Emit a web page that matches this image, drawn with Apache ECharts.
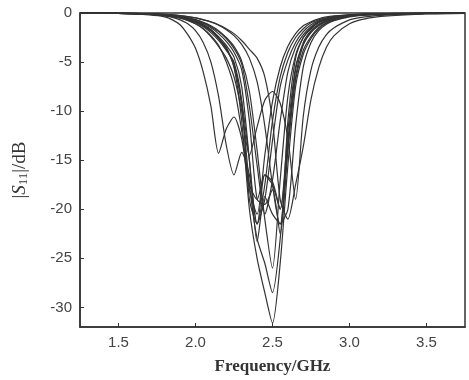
<!DOCTYPE html>
<html><head><meta charset="utf-8">
<script src="https://cdn.jsdelivr.net/npm/echarts@6/dist/echarts.min.js"></script>
<style>html,body{margin:0;padding:0;background:#fff}#c{width:469px;height:380px}</style>
</head><body><div id="c"></div>
<script>
const freq = [1.25,1.5,1.7,1.8,1.85,1.9,1.95,2.0,2.05,2.1,2.15,2.2,2.25,2.3,2.35,2.4,2.45,2.5,2.55,2.6,2.65,2.7,2.75,2.8,2.85,2.9,3.0,3.1,3.25,3.5,3.75];
const c1 = [0,-0.05,-0.2,-0.4,-0.7,-1.2,-2.2,-3.6,-6.0,-9.5,-14.3,-11.8,-10.6,-12.8,-18.0,-20.5,-14.5,-9.0,-5.5,-3.4,-2.1,-1.3,-0.9,-0.6,-0.4,-0.3,-0.2,-0.1,-0.05,0,0];
const c2 = [0,-0.03,-0.15,-0.3,-0.45,-0.7,-1.1,-1.8,-3.0,-5.0,-8.5,-13.5,-16.5,-14.2,-16.5,-21.5,-17.5,-11.0,-6.5,-4.0,-2.5,-1.6,-1.0,-0.7,-0.5,-0.35,-0.2,-0.12,-0.06,-0.02,0];
const c3 = [0,-0.02,-0.1,-0.2,-0.3,-0.42,-0.6,-0.85,-1.2,-1.7,-2.5,-3.6,-5.5,-11,-20,-25,-28.5,-31.6,-25.5,-15.5,-7.5,-4.2,-2.6,-1.6,-1.05,-0.7,-0.35,-0.2,-0.1,-0.03,0];
const c4 = [0,-0.02,-0.1,-0.2,-0.3,-0.45,-0.65,-0.9,-1.3,-1.8,-2.6,-3.7,-5.2,-9.5,-17.5,-23,-25.5,-28.5,-23,-13.5,-6.8,-3.8,-2.4,-1.5,-1.0,-0.65,-0.33,-0.18,-0.09,-0.03,0];
const c5 = [0,-0.03,-0.12,-0.25,-0.35,-0.5,-0.75,-1.1,-1.6,-2.4,-3.4,-4.6,-6.5,-10,-14.5,-11.6,-8.9,-8.0,-9.2,-12.8,-19.0,-10.5,-5.8,-3.5,-2.2,-1.5,-0.7,-0.4,-0.2,-0.06,-0.02];
const c6 = [0,-0.02,-0.08,-0.15,-0.2,-0.27,-0.37,-0.5,-0.7,-0.9,-1.2,-1.6,-2.1,-2.8,-3.7,-4.6,-6.5,-11,-19,-21,-17.5,-13.6,-8.8,-5.6,-3.5,-2.3,-1.1,-0.6,-0.3,-0.1,-0.03];
const c7 = [0,-0.02,-0.1,-0.2,-0.3,-0.42,-0.6,-0.85,-1.2,-1.7,-2.4,-3.3,-4.5,-7.5,-15,-23.3,-18.7,-20.5,-21.5,-11,-4.6,-2.5,-1.5,-0.95,-0.65,-0.45,-0.25,-0.15,-0.08,-0.03,0];
const c8 = [0,-0.03,-0.12,-0.24,-0.34,-0.48,-0.7,-1.0,-1.4,-2.0,-2.8,-3.8,-5.0,-9,-19,-21.5,-16.5,-17.5,-20,-13,-5.8,-3.0,-1.8,-1.15,-0.78,-0.53,-0.28,-0.16,-0.08,-0.03,0];
const c9 = [0,-0.02,-0.09,-0.18,-0.27,-0.38,-0.54,-0.76,-1.07,-1.5,-2.1,-2.9,-4.0,-5.8,-11,-19,-19.5,-18,-22.5,-14,-6.5,-3.2,-1.9,-1.2,-0.8,-0.55,-0.3,-0.17,-0.09,-0.03,0];
const c10 = [0,-0.02,-0.09,-0.18,-0.26,-0.36,-0.5,-0.7,-1.0,-1.4,-1.9,-2.6,-3.6,-5.2,-9.5,-15.5,-20.5,-17,-11,-6,-3.5,-2.2,-1.4,-0.9,-0.62,-0.44,-0.24,-0.14,-0.07,-0.02,0];
const c11 = [0,-0.02,-0.1,-0.21,-0.3,-0.43,-0.62,-0.9,-1.3,-1.85,-2.6,-3.5,-5.5,-9,-15,-21.5,-19,-13,-7.5,-4.8,-3.0,-1.9,-1.2,-0.8,-0.55,-0.4,-0.22,-0.12,-0.06,-0.02,0];
const c12 = [0,-0.03,-0.13,-0.26,-0.37,-0.52,-0.76,-1.1,-1.6,-2.3,-3.3,-5.0,-7.5,-12,-17.5,-19,-16.5,-17.2,-20,-12,-5.5,-3.2,-2.0,-1.3,-0.88,-0.6,-0.32,-0.18,-0.09,-0.03,0];
const c13 = [0,-0.02,-0.08,-0.17,-0.25,-0.35,-0.49,-0.68,-0.95,-1.3,-1.8,-2.5,-3.4,-4.9,-8,-14,-21,-26,-17,-8.5,-4.3,-2.5,-1.6,-1.0,-0.7,-0.48,-0.26,-0.15,-0.07,-0.02,0];
const c14 = [0,-0.02,-0.07,-0.14,-0.2,-0.27,-0.37,-0.5,-0.68,-0.92,-1.25,-1.7,-2.3,-3.2,-4.6,-7,-11.5,-17.5,-21.5,-20,-11.5,-5.5,-3.0,-1.8,-1.15,-0.78,-0.4,-0.22,-0.11,-0.04,-0.01];
const curves = [c1,c2,c3,c4,c5,c6,c7,c8,c9,c10,c11,c12,c13,c14];
const xTicks = [1.5,2.0,2.5,3.0,3.5];
const yTicks = [0,-5,-10,-15,-20,-25,-30];

const chart = echarts.init(document.getElementById('c'), null, {renderer:'canvas'});
chart.setOption({
  animation:false,
  grid:{left:80,right:4,top:13,bottom:51,show:true,borderColor:'#333',borderWidth:1.5,backgroundColor:'#fff'},
  xAxis:{
    type:'value',min:1.25,max:3.75,
    axisLine:{show:true,onZero:false,lineStyle:{color:'#333',width:1.5}},
    axisTick:{show:true,inside:true,length:4,customValues:xTicks,lineStyle:{color:'#333',width:1}},
    axisLabel:{customValues:xTicks,formatter:v=>v.toFixed(1),fontFamily:'Liberation Sans',fontSize:15,color:'#444',margin:8},
    splitLine:{show:false},
    name:'Frequency/GHz',nameLocation:'middle',nameGap:31,
    nameTextStyle:{fontFamily:'Liberation Serif',fontWeight:'bold',fontSize:17,color:'#333'}
  },
  yAxis:{
    type:'value',min:-32,max:0,
    axisLine:{show:true,onZero:false,lineStyle:{color:'#333',width:1.5}},
    axisTick:{show:true,inside:true,length:4,customValues:yTicks,lineStyle:{color:'#333',width:1}},
    axisLabel:{customValues:yTicks,fontFamily:'Liberation Sans',fontSize:15,color:'#444',margin:8},
    splitLine:{show:false},
    name:'|{i|S}{s|11}|/dB',nameLocation:'middle',nameGap:50,nameRotate:90,
    nameTextStyle:{fontFamily:'Liberation Serif',fontSize:19,color:'#333',
      rich:{i:{fontFamily:'Liberation Serif',fontStyle:'italic',fontSize:19,color:'#333'},
            s:{fontFamily:'Liberation Serif',fontSize:13,color:'#333',verticalAlign:'bottom',padding:[7,0,0,0]}}}
  },
  series: curves.map(d=>({
    type:'line',data:freq.map((f,i)=>[f,d[i]]),smooth:0.25,symbol:'none',silent:true,
    lineStyle:{color:'#333',width:1.2}
  }))
});
</script></body></html>
